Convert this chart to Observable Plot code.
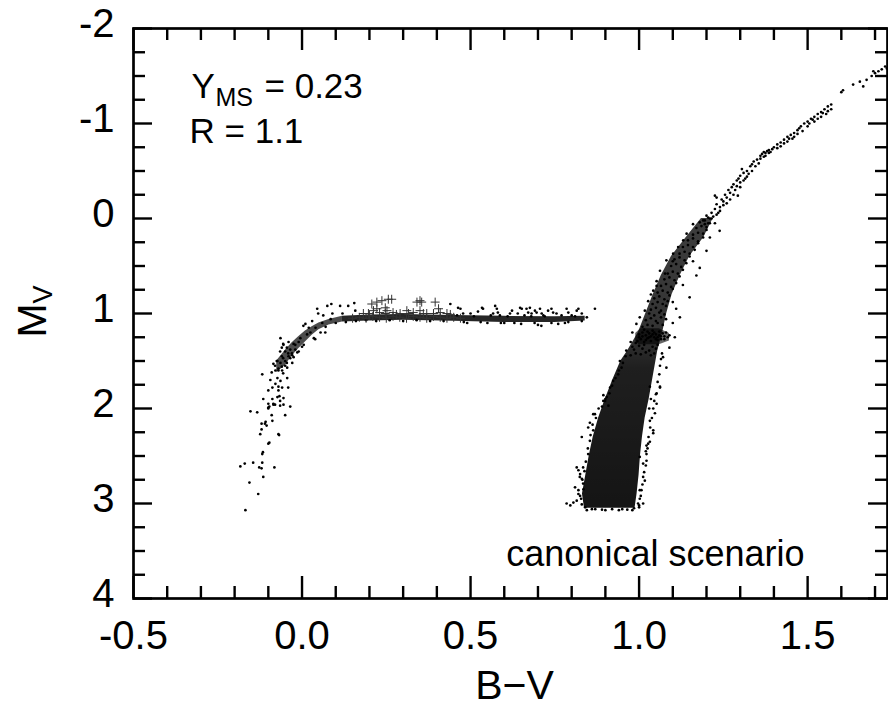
<!DOCTYPE html>
<html><head><meta charset="utf-8">
<script src="https://cdn.jsdelivr.net/npm/d3@7"></script>
<script src="https://cdn.jsdelivr.net/npm/@observablehq/plot@0.6"></script>
<style>
html,body{margin:0;padding:0;background:#fff;}
#chart{width:888px;height:719px;overflow:hidden;}
</style></head><body><div id="chart"></div>
<script>
// ---- axes ----
const xDomain = [-0.5, 1.737];
const yDomain = [-2, 4];
const xMajor = [-0.5, 0, 0.5, 1, 1.5];
const xMinor = [-0.4,-0.3,-0.2,-0.1,0.1,0.2,0.3,0.4,0.6,0.7,0.8,0.9,1.1,1.2,1.3,1.4,1.6,1.7];
const yMajor = [-2,-1,0,1,2,3,4];
const yMinor = [-1.75,-1.5,-1.25,-0.75,-0.5,-0.25,0.25,0.5,0.75,1.25,1.5,1.75,2.25,2.5,2.75,3.25,3.5,3.75];

// ---- dense ridges (envelopes) ----
const rgbBandY  = [3.05, 2.9, 2.7, 2.5, 2.3, 2.1, 1.9, 1.7, 1.5, 1.4, 1.2, 1.0, 0.8, 0.6, 0.4, 0.2, 0.0];
const rgbBandX1 = [0.838, 0.832, 0.842, 0.852, 0.864, 0.88, 0.9, 0.922, 0.946, 0.965, 0.998, 1.02, 1.042, 1.066, 1.096, 1.14, 1.185];
const rgbBandX2 = [0.988, 0.994, 1.0, 1.004, 1.01, 1.018, 1.03, 1.04, 1.05, 1.055, 1.07, 1.082, 1.098, 1.122, 1.15, 1.192, 1.22];
const clumpY  = [1.33, 1.29, 1.21, 1.16];
const clumpX1 = [1.0, 0.99, 0.99, 1.005];
const clumpX2 = [1.06, 1.09, 1.09, 1.06];
const hbCurveX  = [-0.075, -0.05, -0.03, -0.01, 0.01, 0.03, 0.05, 0.08, 0.12];
const hbCurveY1 = [1.5, 1.39, 1.31, 1.245, 1.185, 1.14, 1.1, 1.062, 1.03];
const hbCurveY2 = [1.62, 1.55, 1.45, 1.37, 1.3, 1.23, 1.17, 1.12, 1.09];
const hbFlatX  = [0.12, 0.2, 0.3, 0.45, 0.6, 0.75, 0.84];
const hbFlatY1 = [1.03, 1.015, 1.01, 1.02, 1.03, 1.035, 1.03];
const hbFlatY2 = [1.09, 1.078, 1.072, 1.082, 1.095, 1.095, 1.08];

// ---- individual stars ----
const hbStars = [
[-0.168,3.07],[-0.13,2.90],[-0.156,2.78],[-0.115,2.72],[-0.183,2.61],[-0.17,2.58],[-0.145,2.57],[-0.127,2.62],[-0.12,2.63],[-0.118,2.57],[-0.082,2.62],[-0.118,2.48],[-0.116,2.46],[-0.10,2.37],[-0.097,2.36],[-0.07,2.27],[-0.068,2.28],[-0.124,2.27],[-0.12,2.22],[-0.12,2.16],[-0.11,2.16],[-0.108,2.14],[-0.105,2.18],[-0.088,2.13],[-0.09,2.07],[-0.05,2.07],[-0.153,2.03],[-0.133,2.04],[-0.10,1.99],[-0.097,1.98],[-0.085,1.96],[-0.08,1.96],[-0.065,1.97],[-0.055,1.96],[-0.035,1.98],
[-0.115,1.90],[-0.10,2.0],[-0.10,1.95],[-0.085,1.95],[-0.088,1.90],[-0.065,1.92],[-0.055,1.89],[-0.067,1.87],[-0.073,1.88],
[-0.118,1.64],[-0.094,1.70],[-0.10,1.81],[-0.088,1.78],[-0.079,1.74],[-0.073,1.68],[-0.064,1.71],[-0.059,1.78],[-0.07,1.81],[-0.044,1.68],[-0.041,1.78],[-0.07,1.77],[-0.056,1.63],
[-0.085,1.53],[-0.073,1.50],[-0.064,1.52],[-0.05,1.55],[-0.059,1.60],[-0.044,1.57],[-0.029,1.52],[-0.056,1.47],[-0.041,1.42],[-0.07,1.58],[-0.079,1.60],[-0.035,1.47],
[-0.06,1.45],[-0.05,1.40],[-0.045,1.36],[-0.03,1.42],[-0.02,1.38],[-0.065,1.40],[-0.04,1.30],[-0.025,1.32],[-0.01,1.30],[0.0,1.35],[-0.055,1.33],[-0.064,1.26],[-0.056,1.32],
[0.004,1.13],[0.01,1.11],[0.045,0.95],[0.075,0.92],[0.087,0.90],[0.048,1.0],[0.063,1.02],[0.113,0.92],[0.137,0.92],[0.155,0.89],[0.158,0.97],[0.069,1.2],[0.039,1.27],[-0.014,1.41],[-0.029,1.44],[0.03,1.08],[0.09,1.0],[0.12,1.0],[0.025,1.2],
[-0.07,1.6],[-0.06,1.56],[-0.05,1.5],[-0.04,1.45],[-0.035,1.38],[-0.02,1.33],[-0.005,1.26],[0.015,1.22],[0.02,1.15],[0.04,1.15],[0.06,1.1],[0.07,1.14],[0.085,1.06],[0.1,1.1],[-0.045,1.52],[-0.025,1.46],[-0.01,1.4],[0.005,1.33],[0.035,1.26],[0.055,1.2],[-0.06,1.36],[-0.075,1.5],[-0.08,1.55],[-0.09,1.62],
[0.13,1.09],[0.16,1.08],[0.19,1.07],[0.22,1.08],[0.26,1.07],[0.3,1.08],[0.34,1.07],[0.38,1.08],[0.42,1.08],
[0.44,0.90],[0.463,0.94],[0.47,0.95],[0.478,1.0],[0.5,1.0],[0.534,0.94],[0.537,0.95],[0.522,0.98],[0.573,0.92],[0.578,0.95],[0.581,0.99],[0.587,1.02],[0.567,1.0],[0.617,1.0],[0.623,0.97],[0.647,0.94],[0.652,0.95],[0.666,0.95],[0.676,0.94],[0.671,0.99],[0.681,1.0],[0.691,0.97],[0.696,0.99],[0.706,0.95],[0.711,1.0],[0.716,1.02],[0.73,0.97],[0.74,0.95],[0.745,0.99],[0.755,1.0],[0.785,0.95],[0.79,0.99],[0.80,1.02],[0.815,0.97],[0.82,0.95],[0.83,1.0],[0.869,0.95],[0.71,1.13],[0.76,1.11],[0.70,1.12],[0.65,1.11],[0.60,1.1],[0.55,1.1],[0.845,1.04],
[0.46,1.02],[0.49,1.1],[0.51,1.03],[0.53,1.09],[0.56,1.02],[0.59,1.1],[0.61,1.03],[0.63,1.1],[0.66,1.02],[0.69,1.1],[0.72,1.03],[0.74,1.1],[0.77,1.02],[0.79,1.09],[0.81,1.03],[0.83,1.08],[0.48,1.09],[0.64,1.0],[0.68,1.03],[0.78,1.1]
];
const rrLyrae = [
[0.207,0.90],[0.222,0.88],[0.237,0.865],[0.256,0.85],[0.266,0.85],[0.341,0.88],[0.355,0.88],[0.395,0.88],[0.212,0.97],[0.222,0.95],[0.247,0.94],[0.252,0.97],[0.247,1.0],[0.291,1.0],[0.311,0.97],[0.316,1.0],[0.35,0.97],[0.36,1.0],[0.37,1.0],[0.405,0.95],[0.41,0.99],[0.43,1.0],[0.182,1.0],[0.197,1.0],[0.35,0.865],
[0.15,1.05],[0.17,1.04],[0.19,1.05],[0.21,1.03],[0.23,1.04],[0.25,1.05],[0.27,1.03],[0.29,1.04],[0.31,1.05],[0.33,1.03],[0.35,1.04],[0.37,1.05],[0.39,1.03],[0.41,1.04],[0.43,1.05],[0.45,1.04],[0.47,1.05],[0.23,0.99],[0.27,0.99],[0.33,0.99],[0.39,1.0],[0.2,1.02],[0.28,1.01],[0.44,1.01]
];
const rgbLowerStars = [
[0.785,3.0],[0.796,3.02],[0.815,2.97],[0.82,2.9],[0.81,2.83],[0.824,2.72],[0.834,2.62],[0.815,2.62],[0.82,2.65],[0.825,2.69],[0.83,2.74],[0.834,2.79],[0.82,2.86],[0.825,2.92],[0.849,2.48],[0.854,2.34],[0.83,2.30],[0.864,2.23],[0.849,2.20],[0.854,2.15],[0.864,2.06],[0.869,2.06],[0.894,1.92],[0.904,1.88],[0.894,1.86],[0.899,1.92],[0.909,1.97],[0.914,1.78],[0.923,1.71],[0.938,1.64],[0.948,1.57],[0.943,1.50],[0.962,1.39],[0.84,3.04],[0.83,3.01],[0.86,3.06],[0.9,3.07],[0.95,3.06],[0.805,2.99],
[0.828,2.95],[0.835,2.85],[0.832,2.75],[0.838,2.66],[0.842,2.56],[0.848,2.42],[0.856,2.28],[0.862,2.17],[0.872,2.1],[0.88,2.0],[0.89,1.98],[0.9,1.9],[0.912,1.84],[0.92,1.76],[0.93,1.68],[0.94,1.6],[0.952,1.52],[0.96,1.45],
[1.002,2.51],[1.012,2.58],[1.017,2.76],[1.007,2.86],[1.002,2.95],[1.012,3.0],[1.022,2.39],[1.032,2.35],[1.042,2.26],[1.047,2.05],[1.052,1.84],[1.062,1.77],[1.032,1.77],[1.042,2.23],[1.062,1.78],[1.052,1.95],[1.032,2.13],[1.027,2.37],[1.022,2.55],[1.012,2.72],[1.002,2.86],[0.997,3.0],[0.985,3.05],[1.0,3.04],[1.071,1.46],[1.081,1.57],[1.09,1.36],[1.106,1.25],[1.02,2.45],[1.03,2.0],[1.035,1.9],
[1.0,3.02],[1.005,2.92],[1.01,2.8],[1.015,2.67],[1.02,2.6],[1.022,2.48],[1.025,2.42],[1.028,2.3],[1.033,2.2],[1.038,2.1],[1.042,2.0],[1.045,1.92],[1.05,1.85],[1.055,1.72],[1.06,1.64],[1.062,1.55],[1.065,1.48],[1.068,1.42],
[0.845,3.07],[0.87,3.06],[0.89,3.065],[0.92,3.06],[0.94,3.07],[0.965,3.065],[0.98,3.07]
];
const rgbUpperStars = [
[0.975,1.44],[0.99,1.42],[1.005,1.43],[1.02,1.41],[1.035,1.44],[1.045,1.42],[0.985,1.38],[1.01,1.37],[1.03,1.39],[1.05,1.37],
[0.98,1.35],[1.0,1.34],[1.015,1.33],[1.04,1.35],[1.055,1.33],[0.99,1.31],
[0.995,1.29],[1.005,1.27],[1.015,1.3],[1.025,1.26],[1.035,1.29],[1.045,1.25],[1.055,1.28],[1.065,1.24],[1.075,1.27],[1.085,1.25],[1.0,1.22],[1.01,1.2],[1.02,1.23],[1.03,1.21],[1.04,1.18],[1.05,1.22],[1.06,1.19],[1.07,1.21],[1.08,1.2],[1.015,1.17],[1.035,1.24],[1.055,1.25],[1.045,1.2],[1.025,1.19],[1.065,1.27],[1.09,1.23],[1.0,1.25],[1.02,1.28],[1.04,1.22],[1.06,1.23],[1.075,1.24],[1.03,1.25],[1.05,1.27],[1.01,1.24],
[1.01,1.14],[1.025,1.12],[1.04,1.13],[1.055,1.1],[1.07,1.12],[1.02,1.07],[1.035,1.05],[1.05,1.08],[1.065,1.04],[1.08,1.06],[1.03,1.0],[1.045,1.02],[1.06,0.99],[1.075,1.01],
[1.035,0.96],[1.05,0.94],[1.065,0.97],[1.08,0.92],[1.04,0.9],[1.055,0.88],[1.07,0.9],[1.085,0.87],[1.045,0.84],[1.06,0.82],[1.075,0.85],[1.09,0.81],[1.1,0.88],
[1.055,0.78],[1.07,0.76],[1.085,0.78],[1.1,0.74],[1.065,0.71],[1.08,0.69],[1.095,0.72],[1.11,0.68],[1.075,0.64],[1.09,0.62],[1.105,0.65],[1.12,0.61],
[1.085,0.58],[1.1,0.56],[1.115,0.58],[1.13,0.54],[1.095,0.5],[1.11,0.48],[1.125,0.51],[1.14,0.47],[1.105,0.43],[1.12,0.41],[1.135,0.44],[1.15,0.4],
[1.12,0.37],[1.135,0.35],[1.15,0.37],[1.165,0.33],[1.13,0.3],[1.145,0.28],[1.16,0.3],[1.175,0.26],[1.145,0.23],[1.16,0.21],[1.175,0.24],[1.19,0.2],
[1.16,0.17],[1.175,0.15],[1.19,0.16],[1.2,0.12],[1.17,0.1],[1.185,0.08],[1.2,0.09],[1.21,0.05],[1.18,0.04],[1.195,0.02],
[0.992,1.11],[1.002,1.04],[1.017,0.97],[1.027,0.87],[1.042,0.76],[1.052,0.66],[1.062,0.55],[1.081,0.44],[1.101,0.37],[1.116,0.30],[1.131,0.23],[1.141,0.16],[1.16,0.06],[1.052,0.71],[1.077,0.58],[0.98,1.2],[0.975,1.3],[1.035,0.8],[1.1,0.45],
[1.239,0.13],[1.2,0.34],[1.18,0.52],[1.15,0.83],[1.121,1.04],[1.1,1.1],[1.13,0.7],[1.16,0.45],[1.21,0.2],[1.225,0.05],[1.17,0.6],[1.11,0.95]
];
const rgbTipStars = [
[1.19,0.02],[1.2,-0.03],[1.21,0.0],[1.215,-0.06],[1.205,0.05],[1.22,-0.02],[1.215,0.0],[1.23,-0.04],[1.195,0.06],[1.205,-0.01],
[1.225,-0.1],[1.23,-0.15],[1.24,-0.12],[1.245,-0.2],[1.25,-0.18],[1.255,-0.25],[1.26,-0.22],[1.265,-0.3],[1.27,-0.27],[1.235,-0.06],[1.23,-0.22],[1.275,-0.33],[1.225,-0.24],[1.293,-0.24],
[1.24,-0.08],[1.25,-0.14],[1.26,-0.16],[1.27,-0.2],[1.28,-0.25],[1.285,-0.3],[1.29,-0.34],[1.3,-0.33],
[1.28,-0.36],[1.29,-0.4],[1.295,-0.42],[1.30,-0.45],[1.31,-0.48],[1.305,-0.52],[1.32,-0.5],[1.33,-0.55],[1.335,-0.57],[1.34,-0.6],[1.35,-0.62],[1.3,-0.38],[1.315,-0.42],
[1.31,-0.4],[1.32,-0.44],[1.325,-0.47],[1.335,-0.5],[1.345,-0.55],[1.355,-0.58],
[1.36,-0.66],[1.365,-0.68],[1.37,-0.7],[1.375,-0.69],[1.38,-0.71],[1.385,-0.72],[1.37,-0.65],[1.36,-0.63],[1.375,-0.66],[1.385,-0.69],[1.39,-0.7],[1.395,-0.73],
[1.40,-0.75],[1.41,-0.78],[1.42,-0.8],[1.43,-0.83],[1.44,-0.86],[1.445,-0.84],[1.45,-0.88],[1.46,-0.9],[1.47,-0.93],[1.475,-0.95],[1.48,-0.97],
[1.41,-0.74],[1.42,-0.76],[1.43,-0.79],[1.44,-0.81],[1.455,-0.84],[1.46,-0.86],[1.47,-0.89],[1.485,-0.92],
[1.49,-1.0],[1.5,-1.02],[1.51,-1.05],[1.52,-1.07],[1.53,-1.1],[1.54,-1.12],[1.55,-1.15],[1.56,-1.18],[1.57,-1.2],[1.515,-1.04],[1.545,-1.11],
[1.5,-0.97],[1.505,-1.0],[1.52,-1.02],[1.53,-1.05],[1.54,-1.07],[1.555,-1.1],[1.56,-1.13],[1.57,-1.15],
[1.60,-1.33],[1.605,-1.35],[1.635,-1.41],[1.655,-1.44],[1.665,-1.39],[1.675,-1.46],
[1.69,-1.5],[1.7,-1.53],[1.71,-1.55],[1.72,-1.57],[1.73,-1.6],[1.695,-1.55],[1.735,-1.58]
];

// ---- layout ----
const W = 888, H = 719, mL = 133, mR = 1, mT = 28, mB = 121;
const plotW = W - mL - mR, plotH = H - mT - mB;
const majorLen = 22, minorLen = 12;
const font = "'Liberation Sans', Arial, Helvetica, sans-serif";

const bandX = (ys, x1s, x2s) => ys.map((y, i) => ({y, x1: x1s[i], x2: x2s[i]}));
const bandY = (xs, y1s, y2s) => xs.map((x, i) => ({x, y1: y1s[i], y2: y2s[i]}));
const px = d => d[0], py = d => d[1];
const star = {x: px, y: py, r: 1.35, fill: "#000", stroke: "none"};

// vertical density gradient for the giant-branch ridge (denser toward the bottom)
const gradientDefs = () => {
  const g = d3.create("svg:g");
  const lg = g.append("defs").append("linearGradient")
    .attr("id", "rgbGrad").attr("x1", 0).attr("y1", 0).attr("x2", 0).attr("y2", 1);
  [[0, 0.76], [0.4, 0.8], [0.52, 0.88], [1, 0.92]].forEach(([o, a]) =>
    lg.append("stop").attr("offset", o).attr("stop-color", "#000").attr("stop-opacity", a));
  return g.node();
};

const chart = Plot.plot({
  width: W, height: H,
  marginLeft: mL, marginRight: mR, marginTop: mT, marginBottom: mB,
  style: {fontFamily: font, background: "#fff", color: "#000", overflow: "visible"},
  x: {domain: xDomain, axis: null},
  y: {domain: yDomain, reverse: true, axis: null},
  marks: [
    gradientDefs,
    Plot.areaX(bandX(rgbBandY, rgbBandX1, rgbBandX2), {y: "y", x1: "x1", x2: "x2", fill: "url(#rgbGrad)"}),
    Plot.areaX(bandX(clumpY, clumpX1, clumpX2), {y: "y", x1: "x1", x2: "x2", fill: "#000", fillOpacity: 0.6}),
    Plot.areaY(bandY(hbCurveX, hbCurveY1, hbCurveY2), {x: "x", y1: "y1", y2: "y2", fill: "#000", fillOpacity: 0.7}),
    Plot.areaY(bandY(hbFlatX, hbFlatY1, hbFlatY2), {x: "x", y1: "y1", y2: "y2", fill: "#000", fillOpacity: 0.85}),
    Plot.dot(hbStars, star),
    Plot.dot(rgbLowerStars, star),
    Plot.dot(rgbUpperStars, star),
    Plot.dot(rgbTipStars, star),
    Plot.dot(rrLyrae, {x: px, y: py, symbol: "plus", r: 3, stroke: "#333", strokeWidth: 1, fill: "none"}),
    // inward ticks on all four sides
    Plot.ruleX(xMajor, {x: d => d, stroke: "#000", strokeWidth: 2.4, insetTop: plotH - majorLen}),
    Plot.ruleX(xMinor, {x: d => d, stroke: "#000", strokeWidth: 2.4, insetTop: plotH - minorLen}),
    Plot.ruleX(xMajor, {x: d => d, stroke: "#000", strokeWidth: 2.4, insetBottom: plotH - majorLen}),
    Plot.ruleX(xMinor, {x: d => d, stroke: "#000", strokeWidth: 2.4, insetBottom: plotH - minorLen}),
    Plot.ruleY(yMajor, {y: d => d, stroke: "#000", strokeWidth: 2.4, insetRight: plotW - 19}),
    Plot.ruleY(yMinor, {y: d => d, stroke: "#000", strokeWidth: 2.4, insetRight: plotW - minorLen}),
    Plot.ruleY(yMajor, {y: d => d, stroke: "#000", strokeWidth: 2.4, insetLeft: plotW - 19}),
    Plot.ruleY(yMinor, {y: d => d, stroke: "#000", strokeWidth: 2.4, insetLeft: plotW - minorLen}),
    Plot.frame({stroke: "#000", strokeWidth: 2.7}),
    // tick labels
    Plot.axisX({ticks: xMajor, anchor: "bottom", tickSize: 0, tickPadding: 22, fontSize: 40, tickFormat: d => d.toFixed(1), label: null}),
    Plot.axisY({ticks: yMajor, anchor: "left", tickSize: 0, tickPadding: 19, fontSize: 40, dy: -4, tickFormat: d => String(d), label: null}),
    // axis titles
    Plot.text(["B\u2212V"], {frameAnchor: "bottom", dx: 4, dy: 100, fontSize: 41, text: d => d}),
    Plot.text(["M"], {frameAnchor: "left", rotate: -90, textAnchor: "start", lineAnchor: "bottom", dx: -88, dy: 24, fontSize: 41, text: d => d}),
    Plot.text(["V"], {frameAnchor: "left", rotate: -90, textAnchor: "start", lineAnchor: "bottom", dx: -82, dy: -10, fontSize: 27, text: d => d}),
    // annotations
    Plot.text(["Y"], {frameAnchor: "top-left", textAnchor: "start", lineAnchor: "bottom", dx: 58, dy: 69, fontSize: 35, text: d => d}),
    Plot.text(["MS"], {frameAnchor: "top-left", textAnchor: "start", lineAnchor: "bottom", dx: 82, dy: 77, fontSize: 25, text: d => d}),
    Plot.text(["= 0.23"], {frameAnchor: "top-left", textAnchor: "start", lineAnchor: "bottom", dx: 131, dy: 69, fontSize: 35, text: d => d}),
    Plot.text(["R = 1.1"], {frameAnchor: "top-left", textAnchor: "start", lineAnchor: "bottom", dx: 56, dy: 114, fontSize: 35, text: d => d}),
    Plot.text(["canonical scenario"], {frameAnchor: "bottom-right", textAnchor: "end", lineAnchor: "bottom", dx: -83, dy: -33, fontSize: 36, text: d => d})
  ]
});
document.getElementById("chart").appendChild(chart);
</script></body></html>
